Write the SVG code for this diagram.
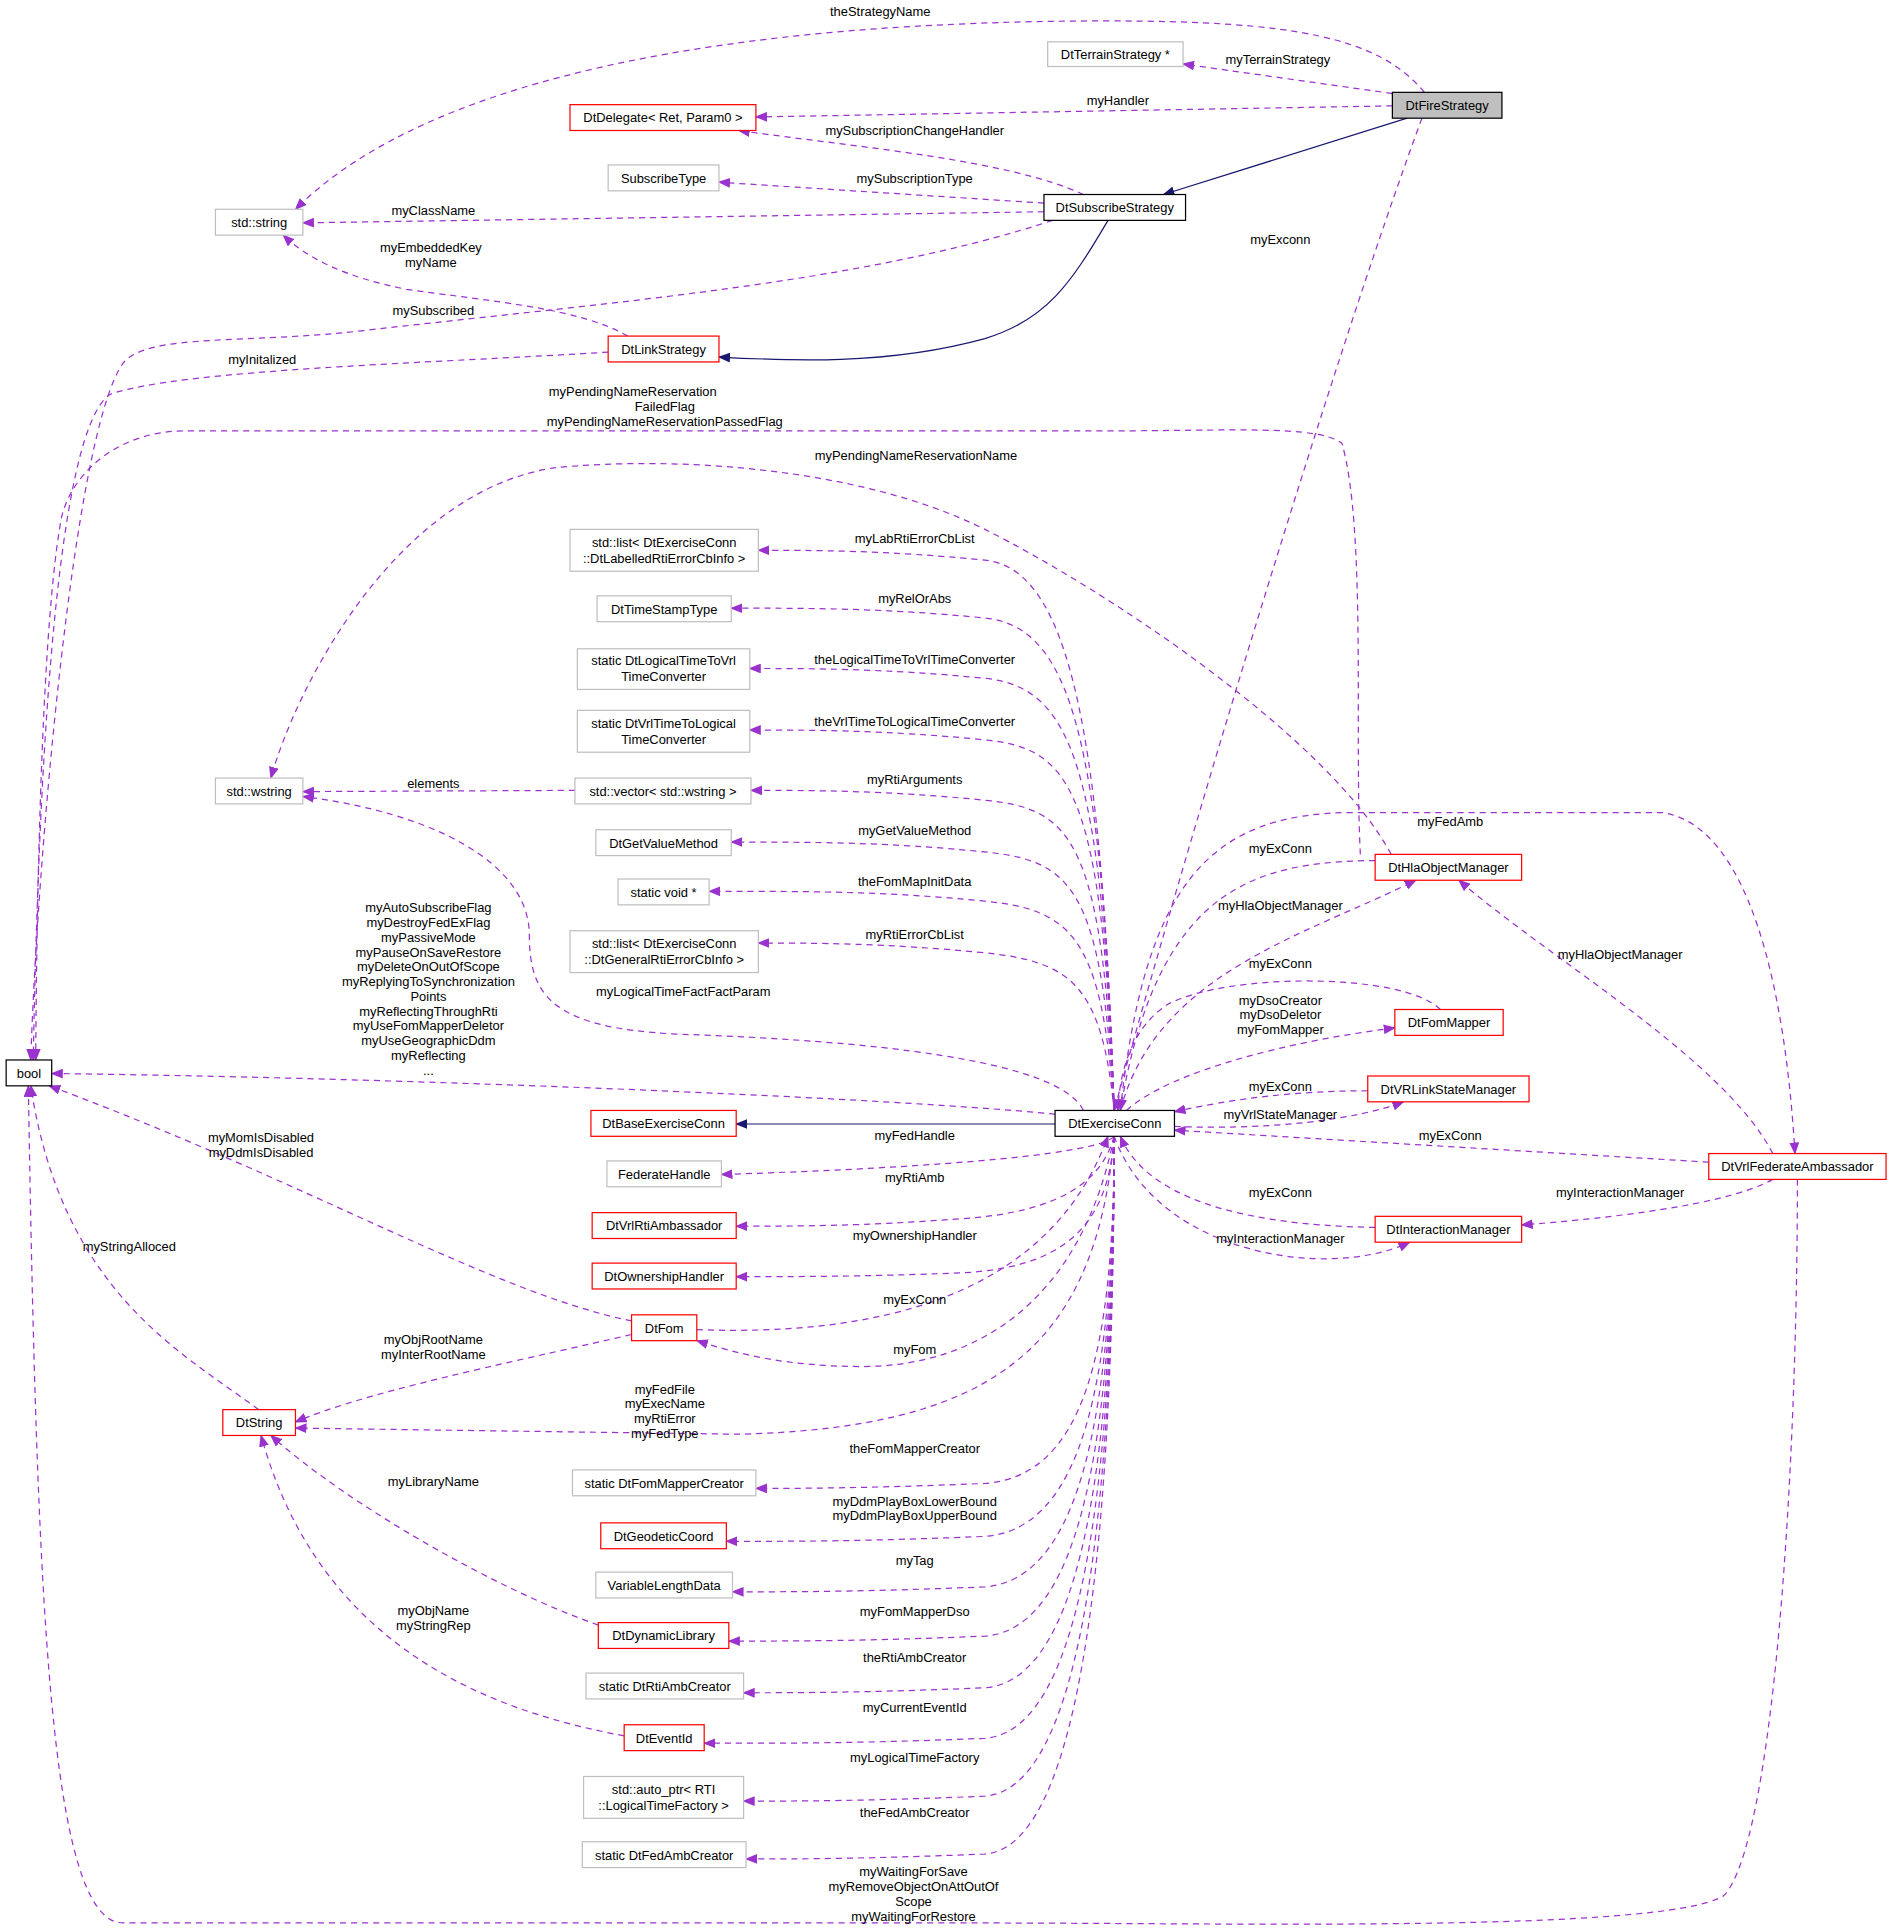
<svg xmlns="http://www.w3.org/2000/svg" width="1891" height="1929" viewBox="0 0 1891 1929">
<style>
text{font-family:"Liberation Sans",Arial,sans-serif;font-size:10.5px;fill:#000;text-anchor:middle}
.n rect{fill:#fff;stroke-width:1}
.g rect{stroke:#bfbfbf}
.r rect{stroke:#ff0000}
.b rect{stroke:#000}
.e path{fill:none;stroke:#9a32cd;stroke-dasharray:5,4;marker-end:url(#pa)}
.e path.inh{stroke:#191970;stroke-dasharray:none;marker-end:url(#na)}
</style>
<defs>
<marker id="pa" markerWidth="10" markerHeight="8" refX="9" refY="4" orient="auto" markerUnits="userSpaceOnUse"><path d="M0,0L10,4L0,8z" fill="#9a32cd"/></marker>
<marker id="na" markerWidth="10" markerHeight="8" refX="9" refY="4" orient="auto" markerUnits="userSpaceOnUse"><path d="M0,0L10,4L0,8z" fill="#191970"/></marker>
</defs>
<rect width="1891" height="1929" fill="#fff"/>
<g transform="scale(1.2311)">
<g class="e">
<path d="M1157,75 C1120,30 1050,17 900,17 C600,17 350,60 240,170"/>
<path d="M1131,76 L961,52"/>
<path d="M1131,86 L614,95"/>
<path class="inh" d="M1143,96 L945,158"/>
<path d="M1155,96 C1080,300 960,700 905,902"/>
<path d="M880,158 C820,130 700,120 600,106"/>
<path d="M848,165 L584,148"/>
<path d="M848,172 L246,181"/>
<path d="M855,179 C700,230 500,245 300,268 C200,280 120,270 100,295 C60,350 30,700 25,861"/>
<path d="M494,286 C350,295 150,300 90,320 C40,350 30,700 27,861"/>
<path d="M510,273 C470,250 400,245 330,235 C280,225 250,210 230,191"/>
<path class="inh" d="M900,179 C870,230 850,260 800,275 C720,297 640,293 584,290"/>
<path d="M1105,694 C1100,600 1110,430 1090,360 C1070,345 1000,350 900,350 L150,350 C100,350 60,380 50,420 C35,500 30,700 29,861"/>
<path d="M1130,694 C1080,600 900,480 800,430 C700,380 550,370 450,380 C320,400 240,560 220,632"/>
<path d="M905,902 C895,600 870,462 800,455 C720,447 660,447 616,447"/>
<path d="M905,902 C895,600 870,509 800,502 C720,494 660,494 594,494"/>
<path d="M905,902 C895,620 870,558 800,551 C720,543 660,543 609,543"/>
<path d="M905,902 C895,640 870,608 800,601 C720,593 660,593 609,593"/>
<path d="M905,902 C895,680 870,657 800,650 C720,642 660,642 610,642"/>
<path d="M905,902 C895,720 870,699 800,692 C720,684 660,684 594,684"/>
<path d="M905,902 C895,760 870,739 800,732 C720,724 660,724 576,724"/>
<path d="M905,902 C895,800 870,781 800,774 C720,766 660,766 616,766"/>
<path d="M467,642 L246,643"/>
<path d="M880,902 C860,860 700,845 550,840 C450,835 430,810 430,760 C430,700 350,660 246,647"/>
<path d="M857,905 C700,890 300,875 42,872"/>
<path class="inh" d="M857,913 L598,913"/>
<path d="M905,923 C890,940 720,950 586,954"/>
<path d="M905,923 C895,960 860,985 780,990 C700,996 650,996 598,996"/>
<path d="M905,923 C900,1000 860,1030 780,1034 C700,1037 650,1037 598,1037"/>
<path d="M566,1080 C700,1085 850,1060 900,923"/>
<path d="M905,923 C880,1050 800,1110 700,1110 C640,1110 600,1100 566,1089"/>
<path d="M513,1073 C400,1050 250,960 40,882"/>
<path d="M513,1084 C400,1110 300,1130 240,1155"/>
<path d="M905,923 C890,1100 800,1160 600,1165 L240,1160"/>
<path d="M210,1145 C150,1100 50,1050 25,882"/>
<path d="M905,923 C905,1100 880,1199 800,1205 C700,1209 650,1209 614,1209"/>
<path d="M905,923 C905,1120 880,1242 800,1248 C700,1252 650,1252 590,1252"/>
<path d="M905,923 C905,1140 880,1283 800,1289 C700,1293 650,1293 595,1293"/>
<path d="M905,923 C905,1160 880,1323 800,1329 C700,1333 650,1333 592,1333"/>
<path d="M486,1320 C400,1290 280,1220 220,1166"/>
<path d="M905,923 C905,1180 880,1365 800,1371 C700,1375 650,1375 604,1375"/>
<path d="M905,923 C905,1200 880,1406 800,1412 C700,1416 650,1416 572,1416"/>
<path d="M507,1410 C400,1390 260,1340 212,1166"/>
<path d="M905,923 C905,1220 880,1453 800,1459 C700,1463 650,1463 604,1463"/>
<path d="M905,923 C905,1240 880,1500 800,1506 C700,1510 650,1510 606,1510"/>
<path d="M1460,958 C1460,1200 1440,1500 1400,1540 C1350,1570 1000,1562 800,1562 L100,1562 C40,1562 30,1300 23,882"/>
<path d="M1388,944 L954,918"/>
<path d="M1440,937 C1400,860 1260,780 1185,715"/>
<path d="M1440,958 C1400,980 1300,990 1236,995"/>
<path d="M910,902 C930,720 980,660 1100,660 L1350,660 C1420,670 1450,800 1458,937"/>
<path d="M1117,699 C1020,700 940,720 910,902"/>
<path d="M910,902 C940,790 1060,760 1150,715"/>
<path d="M1170,820 C1140,790 1000,790 950,815 C925,830 910,860 908,902"/>
<path d="M915,902 C950,870 1050,845 1133,835"/>
<path d="M1111,886 C1050,886 1000,893 954,903"/>
<path d="M954,915 C1030,918 1100,910 1140,895"/>
<path d="M1117,997 C1000,995 930,970 910,923"/>
<path d="M905,923 C940,1020 1080,1040 1145,1009"/>
</g>
<g id="labels">
<text x="715" y="13">theStrategyName</text>
<text x="1038" y="52">myTerrainStrategy</text>
<text x="908" y="85">myHandler</text>
<text x="1040" y="198">myExconn</text>
<text x="743" y="110">mySubscriptionChangeHandler</text>
<text x="743" y="149">mySubscriptionType</text>
<text x="352" y="175">myClassName</text>
<text x="352" y="256">mySubscribed</text>
<text x="213" y="296">myInitalized</text>
<text x="350" y="205">myEmbeddedKey</text>
<text x="350" y="217">myName</text>
<text x="514" y="322">myPendingNameReservation</text>
<text x="540" y="334">FailedFlag</text>
<text x="540" y="346">myPendingNameReservationPassedFlag</text>
<text x="744" y="374">myPendingNameReservationName</text>
<text x="743" y="441">myLabRtiErrorCbList</text>
<text x="743" y="490">myRelOrAbs</text>
<text x="743" y="539">theLogicalTimeToVrlTimeConverter</text>
<text x="743" y="590">theVrlTimeToLogicalTimeConverter</text>
<text x="743" y="637">myRtiArguments</text>
<text x="743" y="678">myGetValueMethod</text>
<text x="743" y="720">theFomMapInitData</text>
<text x="743" y="763">myRtiErrorCbList</text>
<text x="352" y="640">elements</text>
<text x="555" y="809">myLogicalTimeFactFactParam</text>
<text x="348" y="741">myAutoSubscribeFlag</text>
<text x="348" y="753">myDestroyFedExFlag</text>
<text x="348" y="765">myPassiveMode</text>
<text x="348" y="777">myPauseOnSaveRestore</text>
<text x="348" y="789">myDeleteOnOutOfScope</text>
<text x="348" y="801">myReplyingToSynchronization</text>
<text x="348" y="813">Points</text>
<text x="348" y="825">myReflectingThroughRti</text>
<text x="348" y="837">myUseFomMapperDeletor</text>
<text x="348" y="849">myUseGeographicDdm</text>
<text x="348" y="861">myReflecting</text>
<text x="348" y="873">...</text>
<text x="743" y="926">myFedHandle</text>
<text x="743" y="960">myRtiAmb</text>
<text x="743" y="1007">myOwnershipHandler</text>
<text x="743" y="1059">myExConn</text>
<text x="743" y="1100">myFom</text>
<text x="212" y="928">myMomIsDisabled</text>
<text x="212" y="940">myDdmIsDisabled</text>
<text x="352" y="1092">myObjRootName</text>
<text x="352" y="1104">myInterRootName</text>
<text x="540" y="1132">myFedFile</text>
<text x="540" y="1144">myExecName</text>
<text x="540" y="1156">myRtiError</text>
<text x="540" y="1168">myFedType</text>
<text x="105" y="1016">myStringAlloced</text>
<text x="743" y="1180">theFomMapperCreator</text>
<text x="743" y="1223">myDdmPlayBoxLowerBound</text>
<text x="743" y="1235">myDdmPlayBoxUpperBound</text>
<text x="743" y="1271">myTag</text>
<text x="743" y="1313">myFomMapperDso</text>
<text x="352" y="1207">myLibraryName</text>
<text x="743" y="1350">theRtiAmbCreator</text>
<text x="743" y="1391">myCurrentEventId</text>
<text x="352" y="1312">myObjName</text>
<text x="352" y="1324">myStringRep</text>
<text x="743" y="1431">myLogicalTimeFactory</text>
<text x="743" y="1476">theFedAmbCreator</text>
<text x="742" y="1524">myWaitingForSave</text>
<text x="742" y="1536">myRemoveObjectOnAttOutOf</text>
<text x="742" y="1548">Scope</text>
<text x="742" y="1560">myWaitingForRestore</text>
<text x="1178" y="926">myExConn</text>
<text x="1316" y="779">myHlaObjectManager</text>
<text x="1316" y="972">myInteractionManager</text>
<text x="1178" y="671">myFedAmb</text>
<text x="1040" y="693">myExConn</text>
<text x="1040" y="739">myHlaObjectManager</text>
<text x="1040" y="786">myExConn</text>
<text x="1040" y="816">myDsoCreator</text>
<text x="1040" y="828">myDsoDeletor</text>
<text x="1040" y="840">myFomMapper</text>
<text x="1040" y="886">myExConn</text>
<text x="1040" y="909">myVrlStateManager</text>
<text x="1040" y="972">myExConn</text>
<text x="1040" y="1010">myInteractionManager</text>
</g>
<g id="DtFireStrategy" class="n b"><rect x="1131" y="75" width="89" height="21" style="fill:#bfbfbf"/><text x="1175.5" y="89.5">DtFireStrategy</text></g>
<g id="DtTerrainStrategy" class="n g"><rect x="851" y="34" width="110" height="20"/><text x="906" y="48">DtTerrainStrategy *</text></g>
<g id="DtDelegate" class="n r"><rect x="463" y="85" width="151" height="21"/><text x="538.5" y="99.5">DtDelegate&lt; Ret, Param0 &gt;</text></g>
<g id="SubscribeType" class="n g"><rect x="494" y="134" width="90" height="21"/><text x="539" y="148.5">SubscribeType</text></g>
<g id="stdstring" class="n g"><rect x="175" y="170" width="71" height="21"/><text x="210.5" y="184.5">std::string</text></g>
<g id="DtSubscribeStrategy" class="n b"><rect x="848" y="158" width="115" height="21"/><text x="905.5" y="172.5">DtSubscribeStrategy</text></g>
<g id="DtLinkStrategy" class="n r"><rect x="494" y="273" width="90" height="21"/><text x="539" y="287.5">DtLinkStrategy</text></g>
<g id="bool" class="n b"><rect x="5" y="861" width="37" height="21"/><text x="23.5" y="875.5">bool</text></g>
<g id="LabList" class="n g"><rect x="463" y="430" width="153" height="34"/><text x="539.5" y="444">std::list&lt; DtExerciseConn</text><text x="539.5" y="457">::DtLabelledRtiErrorCbInfo &gt;</text></g>
<g id="DtTimeStampType" class="n g"><rect x="485" y="484" width="109" height="21"/><text x="539.5" y="498.5">DtTimeStampType</text></g>
<g id="LogToVrl" class="n g"><rect x="469" y="527" width="140" height="33"/><text x="539" y="540">static DtLogicalTimeToVrl</text><text x="539" y="553">TimeConverter</text></g>
<g id="VrlToLog" class="n g"><rect x="469" y="577" width="140" height="34"/><text x="539" y="591">static DtVrlTimeToLogical</text><text x="539" y="604">TimeConverter</text></g>
<g id="stdwstring" class="n g"><rect x="175" y="632" width="71" height="21"/><text x="210.5" y="646.5">std::wstring</text></g>
<g id="vecwstring" class="n g"><rect x="467" y="632" width="143" height="21"/><text x="538.5" y="646.5">std::vector&lt; std::wstring &gt;</text></g>
<g id="DtGetValueMethod" class="n g"><rect x="484" y="674" width="110" height="21"/><text x="539" y="688.5">DtGetValueMethod</text></g>
<g id="staticvoid" class="n g"><rect x="502" y="714" width="74" height="21"/><text x="539" y="728.5">static void *</text></g>
<g id="GenList" class="n g"><rect x="463" y="756" width="153" height="34"/><text x="539.5" y="770">std::list&lt; DtExerciseConn</text><text x="539.5" y="783">::DtGeneralRtiErrorCbInfo &gt;</text></g>
<g id="DtExerciseConn" class="n b"><rect x="857" y="902" width="97" height="21"/><text x="905.5" y="916.5">DtExerciseConn</text></g>
<g id="DtBaseExerciseConn" class="n r"><rect x="480" y="902" width="118" height="21"/><text x="539" y="916.5">DtBaseExerciseConn</text></g>
<g id="FederateHandle" class="n g"><rect x="493" y="943" width="93" height="21"/><text x="539.5" y="957.5">FederateHandle</text></g>
<g id="DtVrlRtiAmbassador" class="n r"><rect x="481" y="985" width="117" height="21"/><text x="539.5" y="999.5">DtVrlRtiAmbassador</text></g>
<g id="DtOwnershipHandler" class="n r"><rect x="481" y="1026" width="117" height="21"/><text x="539.5" y="1040.5">DtOwnershipHandler</text></g>
<g id="DtFom" class="n r"><rect x="513" y="1068" width="53" height="21"/><text x="539.5" y="1082.5">DtFom</text></g>
<g id="DtString" class="n r"><rect x="181" y="1145" width="59" height="21"/><text x="210.5" y="1159.5">DtString</text></g>
<g id="FomMapperCreator" class="n g"><rect x="465" y="1194" width="149" height="21"/><text x="539.5" y="1208.5">static DtFomMapperCreator</text></g>
<g id="DtGeodeticCoord" class="n r"><rect x="488" y="1237" width="102" height="21"/><text x="539" y="1251.5">DtGeodeticCoord</text></g>
<g id="VariableLengthData" class="n g"><rect x="484" y="1277" width="111" height="21"/><text x="539.5" y="1291.5">VariableLengthData</text></g>
<g id="DtDynamicLibrary" class="n r"><rect x="486" y="1318" width="106" height="21"/><text x="539" y="1332.5">DtDynamicLibrary</text></g>
<g id="RtiAmbCreator" class="n g"><rect x="476" y="1359" width="128" height="21"/><text x="540" y="1373.5">static DtRtiAmbCreator</text></g>
<g id="DtEventId" class="n r"><rect x="507" y="1401" width="65" height="21"/><text x="539.5" y="1415.5">DtEventId</text></g>
<g id="autoptr" class="n g"><rect x="474" y="1443" width="130" height="34"/><text x="539" y="1457">std::auto_ptr&lt; RTI</text><text x="539" y="1470">::LogicalTimeFactory &gt;</text></g>
<g id="FedAmbCreator" class="n g"><rect x="473" y="1496" width="133" height="21"/><text x="539.5" y="1510.5">static DtFedAmbCreator</text></g>
<g id="DtHlaObjectManager" class="n r"><rect x="1117" y="694" width="119" height="21"/><text x="1176.5" y="708.5">DtHlaObjectManager</text></g>
<g id="DtFomMapper" class="n r"><rect x="1133" y="820" width="88" height="21"/><text x="1177" y="834.5">DtFomMapper</text></g>
<g id="DtVRLinkStateManager" class="n r"><rect x="1111" y="874" width="131" height="21"/><text x="1176.5" y="888.5">DtVRLinkStateManager</text></g>
<g id="DtVrlFederateAmbassador" class="n r"><rect x="1388" y="937" width="144" height="21"/><text x="1460" y="951.5">DtVrlFederateAmbassador</text></g>
<g id="DtInteractionManager" class="n r"><rect x="1117" y="988" width="119" height="21"/><text x="1176.5" y="1002.5">DtInteractionManager</text></g>
</g>
</svg>
